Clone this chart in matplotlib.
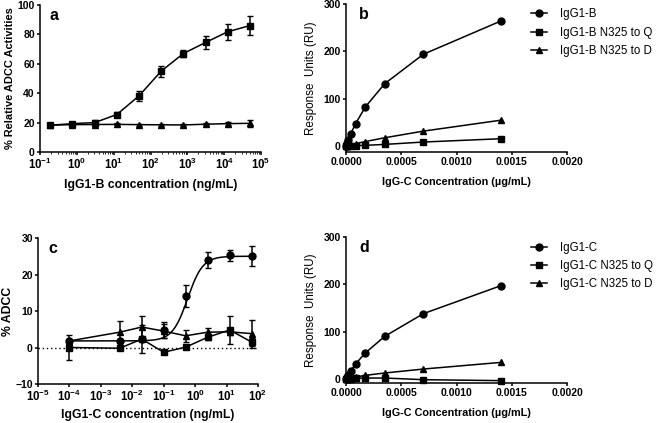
import numpy as np
import matplotlib
matplotlib.use('Agg')
import matplotlib.pyplot as plt

plt.rcParams['font.family'] = 'Liberation Sans'
plt.rcParams['mathtext.fontset'] = 'custom'
plt.rcParams['mathtext.rm'] = 'Liberation Sans:bold'
plt.rcParams['mathtext.bf'] = 'Liberation Sans:bold'
plt.rcParams['mathtext.default'] = 'bf'
plt.rcParams['axes.linewidth'] = 1.1
plt.rcParams['xtick.major.width'] = 1.1
plt.rcParams['ytick.major.width'] = 1.1

# panel a : ADCC, IgG1-B
a_conc = [0.19, 0.76, 3.05, 12.2, 48.8, 195, 781, 3125, 12500, 50000]
a_sq = [18.2, 19.3, 20.0, 25.5, 38.2, 55.0, 67.0, 74.5, 81.8, 86.0]
a_sq_err = [1.2, 1.3, 1.5, 1.5, 3.5, 3.7, 2.5, 4.2, 5.3, 6.7]
a_tri = [18.3, 18.6, 18.7, 18.8, 18.6, 18.5, 18.4, 18.9, 19.3, 19.5]
a_tri_err = [0.8, 0.8, 0.8, 0.6, 0.6, 0.6, 0.6, 0.8, 1.0, 2.2]

# panel b / d : binding
bd_conc = [0.0, 0.0000109, 0.0000219, 0.0000438, 0.0000875, 0.000175, 0.00035, 0.0007, 0.0014]
b_labels = ['IgG1-B', 'IgG1-B N325 to Q', 'IgG1-B N325 to D']
b_wt = [0, 6, 14, 27, 48, 83, 132, 194, 264]
b_q = [0, 0.5, 1, 1.5, 1.5, 2, 4, 9, 16]
b_d = [0, 1, 2, 3.5, 5.6, 10, 18, 32, 55]

d_labels = ['IgG1-C', 'IgG1-C N325 to Q', 'IgG1-C N325 to D']
d_wt = [0, 4, 8, 17.5, 32, 55, 90, 138, 197]
d_q = [0, 0.5, 1, 1, 1.5, 2, 2, -1.5, -3.5]
d_d = [0, 1, 1.5, 2.5, 4, 7.7, 12.6, 21, 35]

# panel c : ADCC, IgG1-C
c_conc = [0.0001, 0.004, 0.02, 0.1, 0.5, 2.5, 12.5, 62.5]
c_wt = [1.8, 1.8, 2.2, 4.8, 14.2, 24.0, 25.3, 25.0]
c_wt_err = [0.0, 0.0, 0.0, 2.3, 3.0, 2.2, 1.5, 2.7]
c_q = [0.0, -0.2, 2.3, -1.3, 0.1, 2.8, 4.8, 1.5]
c_q_err = [3.5, 0.5, 3.8, 0.5, 0.5, 0.8, 3.8, 1.0]
c_d = [1.8, 4.2, 5.6, 4.5, 3.2, 4.2, 4.3, 3.8]
c_d_err = [0.0, 3.1, 3.0, 2.0, 1.6, 1.2, 0.8, 3.8]
# 4PL fit for IgG1-C (bottom, top, logEC50, hill)
c_fit = (1.8, 25.0, -0.24, 1.8)

tick_fs = 7.5
lab_fs = 8.8
lw = 1.1
ms = 5

fig = plt.figure(figsize=(6.58, 4.23), dpi=100)
ax_a = fig.add_axes([40/658, 1-152/423, 221/658, 147/423])
ax_b = fig.add_axes([346/658, 1-152/423, 221/658, 148/423])
ax_c = fig.add_axes([38/658, 1-384/423, 220/658, 146/423])
ax_d = fig.add_axes([346/658, 1-383/423, 221/658, 146/423])

for ax in [ax_a, ax_b, ax_c, ax_d]:
    ax.spines['top'].set_visible(False)
    ax.spines['right'].set_visible(False)
    ax.tick_params(labelsize=tick_fs, length=2.5, pad=1.2)
    ax.tick_params(which='minor', length=1.6)
    for t in ax.get_xticklabels() + ax.get_yticklabels():
        t.set_fontweight('bold')

# a
ax_a.errorbar(a_conc, a_sq, yerr=a_sq_err, color='black', marker='s', ms=ms, lw=lw, capsize=2.5, elinewidth=lw)
ax_a.errorbar(a_conc, a_tri, yerr=a_tri_err, color='black', marker='^', ms=ms, lw=lw, capsize=2.5, elinewidth=lw)
ax_a.set_xscale('log')
ax_a.set_xlim(0.1, 1e5)
ax_a.set_ylim(0, 100)
ax_a.set_yticks([0, 20, 40, 60, 80, 100])
ax_a.set_xticks([10.0**k for k in range(-1, 6)])
ax_a.tick_params(axis='x', labelsize=8.3)
ax_a.set_xlabel('IgG1-B concentration (ng/mL)', fontsize=lab_fs, fontweight='bold', labelpad=5)
ax_a.set_ylabel('% Relative ADCC Activities', fontsize=7.9, fontweight='bold', labelpad=2)
ax_a.text(0.045, 0.98, 'a', transform=ax_a.transAxes, fontsize=11.5, fontweight='bold', va='top')

# c
ax_c.axhline(0, color='black', lw=1, ls=(0, (1, 2)))
bot, top, logec, hill = c_fit
xs = np.logspace(-4, np.log10(62.5), 200)
ax_c.plot(xs, bot + (top - bot) / (1 + 10**((logec - np.log10(xs)) * hill)), color='black', lw=lw)
ax_c.errorbar(c_conc, c_wt, yerr=c_wt_err, color='black', marker='o', ms=ms, ls='none', capsize=2.5, elinewidth=lw)
ax_c.errorbar(c_conc, c_q, yerr=c_q_err, color='black', marker='s', ms=ms, lw=lw, capsize=2.5, elinewidth=lw)
ax_c.errorbar(c_conc, c_d, yerr=c_d_err, color='black', marker='^', ms=ms, lw=lw, capsize=2.5, elinewidth=lw)
ax_c.set_xscale('log')
ax_c.set_xlim(1e-5, 1e2)
ax_c.set_ylim(-10, 30)
ax_c.set_yticks([-10, 0, 10, 20, 30])
ax_c.set_xticks([10.0**k for k in range(-5, 3)])
ax_c.tick_params(axis='x', labelsize=8.3)
ax_c.set_xlabel('IgG1-C concentration (ng/mL)', fontsize=lab_fs, fontweight='bold', labelpad=3)
ax_c.set_ylabel('% ADCC', fontsize=lab_fs, fontweight='bold', labelpad=1)
ax_c.text(0.045, 0.98, 'c', transform=ax_c.transAxes, fontsize=11.5, fontweight='bold', va='top')

# b and d
for ax, wt, q, d, labels, letter, ylo in [(ax_b, b_wt, b_q, b_d, b_labels, 'b', -12),
                                         (ax_d, d_wt, d_q, d_d, d_labels, 'd', -8.5)]:
    ax.plot(bd_conc, wt, color='black', marker='o', ms=ms, lw=lw, label=labels[0], clip_on=False)
    ax.plot(bd_conc, q, color='black', marker='s', ms=ms, lw=lw, label=labels[1], clip_on=False)
    ax.plot(bd_conc, d, color='black', marker='^', ms=ms, lw=lw, label=labels[2], clip_on=False)
    ax.set_xlim(0, 0.002)
    ax.set_ylim(ylo, 300)
    ax.set_yticks([0, 100, 200, 300])
    ax.set_xticks([0, 0.0005, 0.001, 0.0015, 0.002])
    ax.set_xticklabels(['0.0000', '0.0005', '0.0010', '0.0015', '0.0020'], fontweight='bold')
    ax.set_xlabel('IgG-C Concentration (\u00b5g/mL)', fontsize=7.8, fontweight='bold', labelpad=7)
    ax.set_ylabel('Response  Units (RU)', fontsize=8.4, labelpad=5)
    ax.text(0.06, 0.98, letter, transform=ax.transAxes, fontsize=11.5, fontweight='bold', va='top')
    ax.legend(loc='upper left', bbox_to_anchor=(0.79, 1.04), frameon=False, fontsize=8.3,
              handlelength=1.4, handletextpad=1.1, labelspacing=0.55)

fig.savefig('out.png', dpi=100)
